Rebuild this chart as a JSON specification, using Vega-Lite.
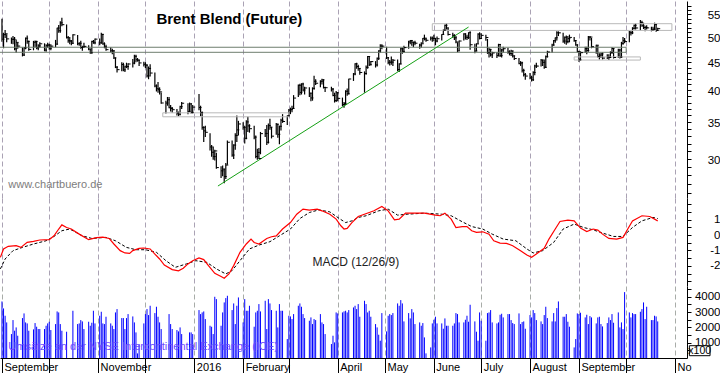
{
"$schema":"https://vega.github.io/schema/vega-lite/v6.json",
"padding":{"left":-3,"top":0,"right":0,"bottom":0},
"spacing":0,
"bounds":"flush",
"config":{"font":"Liberation Sans","view":{"stroke":null},"axis":{"labelFont":"Liberation Sans","labelColor":"#000","labelFontSize":11.5,"titleFont":"Liberation Sans"}},
"datasets":{
"px":[
{"d":"2015-09-01","h":54.0,"l":49.0,"c":49.56,"v":3692},
{"d":"2015-09-02","h":50.9,"l":47.7,"c":50.50,"v":3236},
{"d":"2015-09-03","h":51.5,"l":49.8,"c":50.68,"v":2758},
{"d":"2015-09-04","h":50.6,"l":48.9,"c":49.61,"v":2323},
{"d":"2015-09-07","h":49.9,"l":48.6,"c":49.52,"v":1563},
{"d":"2015-09-08","h":50.2,"l":48.5,"c":49.52,"v":2475},
{"d":"2015-09-09","h":50.0,"l":47.3,"c":47.58,"v":1780},
{"d":"2015-09-10","h":49.5,"l":46.8,"c":48.89,"v":1997},
{"d":"2015-09-11","h":48.8,"l":47.6,"c":48.14,"v":1454},
{"d":"2015-09-14","h":47.9,"l":46.1,"c":46.37,"v":2606},
{"d":"2015-09-15","h":47.9,"l":46.2,"c":47.75,"v":2910},
{"d":"2015-09-16","h":49.9,"l":47.5,"c":49.75,"v":2323},
{"d":"2015-09-17","h":50.3,"l":48.6,"c":49.08,"v":2258},
{"d":"2015-09-18","h":49.3,"l":47.2,"c":47.47,"v":1780},
{"d":"2015-09-21","h":49.2,"l":47.3,"c":48.92,"v":1867},
{"d":"2015-09-22","h":49.3,"l":47.9,"c":49.08,"v":2280},
{"d":"2015-09-23","h":49.2,"l":47.5,"c":47.75,"v":2041},
{"d":"2015-09-24","h":48.5,"l":47.3,"c":48.17,"v":1889},
{"d":"2015-09-25","h":48.9,"l":47.8,"c":48.60,"v":1889},
{"d":"2015-09-28","h":48.7,"l":47.1,"c":47.34,"v":1889},
{"d":"2015-09-29","h":48.5,"l":47.0,"c":48.23,"v":2106},
{"d":"2015-09-30","h":48.8,"l":47.8,"c":48.37,"v":2258},
{"d":"2015-10-01","h":48.6,"l":47.4,"c":47.69,"v":2367},
{"d":"2015-10-02","h":48.5,"l":47.3,"c":48.13,"v":1824},
{"d":"2015-10-05","h":49.4,"l":47.9,"c":48.54,"v":2215},
{"d":"2015-10-06","h":52.0,"l":48.4,"c":51.92,"v":3040},
{"d":"2015-10-07","h":52.6,"l":50.9,"c":51.33,"v":2975},
{"d":"2015-10-08","h":53.4,"l":50.9,"c":53.05,"v":2215},
{"d":"2015-10-09","h":54.2,"l":52.3,"c":52.65,"v":1780},
{"d":"2015-10-12","h":52.7,"l":49.7,"c":49.86,"v":1715},
{"d":"2015-10-13","h":50.2,"l":48.8,"c":49.24,"v":0},
{"d":"2015-10-14","h":50.0,"l":48.5,"c":49.15,"v":0},
{"d":"2015-10-15","h":49.4,"l":48.3,"c":48.71,"v":0},
{"d":"2015-10-16","h":50.6,"l":48.6,"c":50.46,"v":3084},
{"d":"2015-10-19","h":50.4,"l":48.3,"c":48.61,"v":2215},
{"d":"2015-10-20","h":48.9,"l":48.2,"c":48.71,"v":2258},
{"d":"2015-10-21","h":49.2,"l":47.6,"c":47.85,"v":2475},
{"d":"2015-10-22","h":48.2,"l":47.2,"c":47.99,"v":2388},
{"d":"2015-10-23","h":48.8,"l":47.8,"c":48.08,"v":1889},
{"d":"2015-10-26","h":48.3,"l":47.3,"c":47.54,"v":2367},
{"d":"2015-10-27","h":47.6,"l":46.6,"c":46.81,"v":2106},
{"d":"2015-10-28","h":49.2,"l":46.6,"c":49.05,"v":2302},
{"d":"2015-10-29","h":49.4,"l":48.6,"c":48.80,"v":3084},
{"d":"2015-10-30","h":49.7,"l":48.5,"c":49.56,"v":2258},
{"d":"2015-11-02","h":49.7,"l":48.3,"c":48.79,"v":2758},
{"d":"2015-11-03","h":50.9,"l":48.6,"c":50.54,"v":3019},
{"d":"2015-11-04","h":50.7,"l":48.4,"c":48.58,"v":2258},
{"d":"2015-11-05","h":48.9,"l":47.7,"c":47.98,"v":2215},
{"d":"2015-11-06","h":48.4,"l":47.2,"c":47.42,"v":2693},
{"d":"2015-11-09","h":47.9,"l":46.9,"c":47.19,"v":2258},
{"d":"2015-11-10","h":47.6,"l":46.5,"c":47.19,"v":2106},
{"d":"2015-11-11","h":47.3,"l":45.6,"c":45.81,"v":1889},
{"d":"2015-11-12","h":45.9,"l":43.9,"c":44.06,"v":2975},
{"d":"2015-11-13","h":44.3,"l":43.1,"c":43.61,"v":3193},
{"d":"2015-11-16","h":45.0,"l":43.3,"c":44.56,"v":2606},
{"d":"2015-11-17","h":44.9,"l":43.3,"c":43.57,"v":2606},
{"d":"2015-11-18","h":44.4,"l":43.2,"c":44.14,"v":1889},
{"d":"2015-11-19","h":44.9,"l":43.9,"c":44.18,"v":2606},
{"d":"2015-11-20","h":44.8,"l":43.6,"c":44.66,"v":2867},
{"d":"2015-11-23","h":45.6,"l":44.0,"c":44.83,"v":2714},
{"d":"2015-11-24","h":46.4,"l":44.6,"c":46.12,"v":2323},
{"d":"2015-11-25","h":46.4,"l":45.0,"c":45.46,"v":1671},
{"d":"2015-11-26","h":45.8,"l":45.1,"c":45.37,"v":300},
{"d":"2015-11-27","h":45.5,"l":44.3,"c":44.86,"v":900},
{"d":"2015-11-30","h":45.1,"l":44.2,"c":44.61,"v":2258},
{"d":"2015-12-01","h":45.0,"l":43.9,"c":44.44,"v":2867},
{"d":"2015-12-02","h":44.6,"l":42.2,"c":42.49,"v":3193},
{"d":"2015-12-03","h":44.2,"l":41.9,"c":43.84,"v":2802},
{"d":"2015-12-04","h":44.6,"l":42.4,"c":43.00,"v":3410},
{"d":"2015-12-07","h":43.1,"l":40.5,"c":40.73,"v":2932},
{"d":"2015-12-08","h":41.0,"l":39.8,"c":40.26,"v":3345},
{"d":"2015-12-09","h":41.4,"l":39.6,"c":40.11,"v":2693},
{"d":"2015-12-10","h":40.5,"l":39.3,"c":39.73,"v":2323},
{"d":"2015-12-11","h":39.6,"l":37.8,"c":37.93,"v":1889},
{"d":"2015-12-14","h":38.3,"l":36.3,"c":37.92,"v":0},
{"d":"2015-12-15","h":38.9,"l":37.5,"c":38.45,"v":0},
{"d":"2015-12-16","h":38.9,"l":37.1,"c":37.19,"v":2867},
{"d":"2015-12-17","h":37.6,"l":36.6,"c":37.06,"v":2215},
{"d":"2015-12-18","h":37.3,"l":36.4,"c":36.88,"v":1889},
{"d":"2015-12-21","h":37.0,"l":36.0,"c":36.35,"v":1824},
{"d":"2015-12-22","h":36.6,"l":35.9,"c":36.11,"v":1736},
{"d":"2015-12-23","h":37.5,"l":36.1,"c":37.36,"v":1997},
{"d":"2015-12-24","h":38.1,"l":37.0,"c":37.89,"v":1563},
{"d":"2015-12-28","h":37.9,"l":36.2,"c":36.62,"v":0},
{"d":"2015-12-29","h":38.0,"l":36.5,"c":37.79,"v":1671},
{"d":"2015-12-30","h":37.9,"l":36.3,"c":36.46,"v":1671},
{"d":"2015-12-31","h":37.6,"l":36.3,"c":37.28,"v":1563},
{"d":"2016-01-04","h":39.4,"l":36.8,"c":37.22,"v":3128},
{"d":"2016-01-05","h":37.5,"l":35.9,"c":36.42,"v":2867},
{"d":"2016-01-06","h":36.6,"l":33.9,"c":34.23,"v":2975},
{"d":"2016-01-07","h":34.4,"l":32.2,"c":33.75,"v":3040},
{"d":"2016-01-08","h":34.5,"l":32.9,"c":33.55,"v":2541},
{"d":"2016-01-11","h":33.4,"l":31.1,"c":31.55,"v":2106},
{"d":"2016-01-12","h":31.8,"l":30.3,"c":30.86,"v":2041},
{"d":"2016-01-13","h":31.6,"l":29.9,"c":30.31,"v":1563},
{"d":"2016-01-14","h":31.2,"l":29.8,"c":31.03,"v":3997},
{"d":"2016-01-15","h":30.8,"l":28.8,"c":28.94,"v":3845},
{"d":"2016-01-18","h":29.1,"l":27.7,"c":28.55,"v":2106},
{"d":"2016-01-19","h":29.2,"l":27.9,"c":28.76,"v":2975},
{"d":"2016-01-20","h":28.8,"l":27.1,"c":27.88,"v":3627},
{"d":"2016-01-21","h":29.5,"l":27.6,"c":29.25,"v":3910},
{"d":"2016-01-22","h":32.4,"l":29.3,"c":32.18,"v":4062},
{"d":"2016-01-25","h":32.4,"l":30.3,"c":30.50,"v":3128},
{"d":"2016-01-26","h":31.9,"l":30.0,"c":31.80,"v":3562},
{"d":"2016-01-27","h":33.4,"l":31.2,"c":33.10,"v":2215},
{"d":"2016-01-28","h":36.0,"l":32.2,"c":33.89,"v":3410},
{"d":"2016-01-29","h":35.2,"l":33.1,"c":34.74,"v":3953},
{"d":"2016-02-01","h":35.0,"l":33.9,"c":34.24,"v":2323},
{"d":"2016-02-02","h":34.5,"l":32.0,"c":32.72,"v":3845},
{"d":"2016-02-03","h":35.3,"l":32.6,"c":35.04,"v":3084},
{"d":"2016-02-04","h":35.8,"l":33.6,"c":34.46,"v":3084},
{"d":"2016-02-05","h":34.7,"l":33.5,"c":34.06,"v":3410},
{"d":"2016-02-08","h":34.5,"l":32.6,"c":32.88,"v":2041},
{"d":"2016-02-09","h":33.1,"l":30.1,"c":30.32,"v":2975},
{"d":"2016-02-10","h":31.3,"l":29.9,"c":30.84,"v":3084},
{"d":"2016-02-11","h":31.4,"l":30.0,"c":30.06,"v":3519},
{"d":"2016-02-12","h":33.6,"l":30.6,"c":33.36,"v":3040},
{"d":"2016-02-15","h":34.0,"l":32.9,"c":33.39,"v":3736},
{"d":"2016-02-16","h":34.6,"l":31.8,"c":32.18,"v":1889},
{"d":"2016-02-17","h":34.8,"l":32.0,"c":34.50,"v":3845},
{"d":"2016-02-18","h":35.5,"l":33.9,"c":34.28,"v":3562},
{"d":"2016-02-19","h":34.3,"l":32.7,"c":33.01,"v":3128},
{"d":"2016-02-22","h":34.9,"l":33.2,"c":34.69,"v":3084},
{"d":"2016-02-23","h":34.8,"l":32.8,"c":33.27,"v":1997},
{"d":"2016-02-24","h":34.5,"l":31.9,"c":34.41,"v":3519},
{"d":"2016-02-25","h":35.5,"l":33.8,"c":35.29,"v":3084},
{"d":"2016-02-26","h":36.2,"l":34.9,"c":35.10,"v":3084},
{"d":"2016-02-29","h":36.0,"l":34.6,"c":35.97,"v":1237},
{"d":"2016-03-01","h":37.0,"l":35.8,"c":36.81,"v":2758},
{"d":"2016-03-02","h":37.2,"l":36.2,"c":36.93,"v":2714},
{"d":"2016-03-03","h":37.5,"l":36.5,"c":37.07,"v":2541},
{"d":"2016-03-04","h":39.2,"l":37.0,"c":38.72,"v":2867},
{"d":"2016-03-07","h":41.0,"l":38.9,"c":40.84,"v":3410},
{"d":"2016-03-08","h":41.1,"l":39.2,"c":39.65,"v":3562},
{"d":"2016-03-09","h":41.2,"l":39.3,"c":41.07,"v":3345},
{"d":"2016-03-10","h":41.3,"l":39.8,"c":40.05,"v":2867},
{"d":"2016-03-11","h":40.6,"l":39.3,"c":40.39,"v":2606},
{"d":"2016-03-14","h":40.5,"l":38.9,"c":39.53,"v":2432},
{"d":"2016-03-15","h":39.6,"l":38.2,"c":38.74,"v":2649},
{"d":"2016-03-16","h":40.5,"l":38.3,"c":40.33,"v":2215},
{"d":"2016-03-17","h":42.5,"l":40.1,"c":41.54,"v":2541},
{"d":"2016-03-18","h":41.9,"l":40.9,"c":41.20,"v":2475},
{"d":"2016-03-21","h":41.7,"l":40.5,"c":41.54,"v":2867},
{"d":"2016-03-22","h":42.0,"l":41.0,"c":41.79,"v":2323},
{"d":"2016-03-23","h":41.9,"l":40.3,"c":40.47,"v":2215},
{"d":"2016-03-24","h":40.6,"l":39.7,"c":40.44,"v":1563},
{"d":"2016-03-28","h":40.6,"l":39.8,"c":40.20,"v":911},
{"d":"2016-03-29","h":40.4,"l":39.0,"c":39.14,"v":1454},
{"d":"2016-03-30","h":39.6,"l":38.0,"c":38.32,"v":1019},
{"d":"2016-03-31","h":39.9,"l":38.1,"c":39.60,"v":2975},
{"d":"2016-04-01","h":39.7,"l":38.2,"c":38.67,"v":2910},
{"d":"2016-04-04","h":38.8,"l":37.4,"c":37.69,"v":2975},
{"d":"2016-04-05","h":38.1,"l":37.2,"c":37.87,"v":3040},
{"d":"2016-04-06","h":40.0,"l":37.6,"c":39.84,"v":3084},
{"d":"2016-04-07","h":40.3,"l":39.1,"c":39.43,"v":2975},
{"d":"2016-04-08","h":42.0,"l":39.3,"c":41.94,"v":3128},
{"d":"2016-04-11","h":43.0,"l":41.6,"c":42.83,"v":3301},
{"d":"2016-04-12","h":44.8,"l":42.6,"c":44.69,"v":3410},
{"d":"2016-04-13","h":44.9,"l":43.8,"c":44.18,"v":3193},
{"d":"2016-04-14","h":44.5,"l":43.4,"c":43.84,"v":3519},
{"d":"2016-04-15","h":43.9,"l":42.7,"c":43.10,"v":2693},
{"d":"2016-04-18","h":43.3,"l":39.6,"c":42.91,"v":3736},
{"d":"2016-04-19","h":44.4,"l":42.7,"c":44.03,"v":3519},
{"d":"2016-04-20","h":46.2,"l":43.8,"c":46.08,"v":2975},
{"d":"2016-04-21","h":46.1,"l":44.3,"c":44.53,"v":3084},
{"d":"2016-04-22","h":45.2,"l":44.4,"c":45.11,"v":2693},
{"d":"2016-04-25","h":45.2,"l":44.0,"c":44.48,"v":2215},
{"d":"2016-04-26","h":45.9,"l":44.2,"c":45.74,"v":1997},
{"d":"2016-04-27","h":47.3,"l":45.4,"c":47.18,"v":1519},
{"d":"2016-04-28","h":48.5,"l":46.8,"c":48.14,"v":1128},
{"d":"2016-04-29","h":48.5,"l":47.5,"c":48.13,"v":2932},
{"d":"2016-05-02","h":48.0,"l":45.6,"c":45.83,"v":1736},
{"d":"2016-05-03","h":46.0,"l":44.6,"c":44.97,"v":2758},
{"d":"2016-05-04","h":45.4,"l":44.4,"c":45.01,"v":2867},
{"d":"2016-05-05","h":46.1,"l":44.5,"c":45.01,"v":2802},
{"d":"2016-05-06","h":45.6,"l":44.3,"c":45.37,"v":2932},
{"d":"2016-05-09","h":45.5,"l":43.3,"c":43.63,"v":3562},
{"d":"2016-05-10","h":44.8,"l":43.2,"c":44.66,"v":3410},
{"d":"2016-05-11","h":47.8,"l":44.6,"c":47.59,"v":3780},
{"d":"2016-05-12","h":47.8,"l":46.6,"c":47.08,"v":3562},
{"d":"2016-05-13","h":48.2,"l":46.8,"c":47.83,"v":2388},
{"d":"2016-05-16","h":49.2,"l":47.6,"c":48.97,"v":2932},
{"d":"2016-05-17","h":49.4,"l":48.5,"c":49.28,"v":2584},
{"d":"2016-05-18","h":49.4,"l":48.2,"c":48.93,"v":3193},
{"d":"2016-05-19","h":49.0,"l":47.9,"c":48.81,"v":2975},
{"d":"2016-05-20","h":49.2,"l":48.3,"c":48.72,"v":2215},
{"d":"2016-05-23","h":48.6,"l":47.6,"c":48.35,"v":2323},
{"d":"2016-05-24","h":48.9,"l":47.8,"c":48.61,"v":2106},
{"d":"2016-05-25","h":49.8,"l":48.7,"c":49.74,"v":2280},
{"d":"2016-05-26","h":50.5,"l":49.3,"c":49.59,"v":1345},
{"d":"2016-05-27","h":49.9,"l":49.0,"c":49.32,"v":300},
{"d":"2016-05-30","h":50.1,"l":49.3,"c":49.76,"v":691},
{"d":"2016-05-31","h":50.1,"l":49.0,"c":49.69,"v":2258},
{"d":"2016-06-01","h":50.5,"l":49.1,"c":49.72,"v":2497},
{"d":"2016-06-02","h":49.8,"l":48.3,"c":49.17,"v":2693},
{"d":"2016-06-03","h":50.1,"l":48.9,"c":49.64,"v":2258},
{"d":"2016-06-06","h":50.6,"l":49.3,"c":50.55,"v":2258},
{"d":"2016-06-07","h":51.6,"l":50.4,"c":51.44,"v":1910},
{"d":"2016-06-08","h":52.7,"l":51.4,"c":52.51,"v":2584},
{"d":"2016-06-09","h":52.9,"l":51.6,"c":51.95,"v":2106},
{"d":"2016-06-10","h":51.9,"l":50.3,"c":50.54,"v":2106},
{"d":"2016-06-13","h":50.9,"l":49.8,"c":50.35,"v":2106},
{"d":"2016-06-14","h":50.6,"l":49.4,"c":49.83,"v":2258},
{"d":"2016-06-15","h":50.2,"l":48.7,"c":48.97,"v":2932},
{"d":"2016-06-16","h":48.9,"l":46.9,"c":47.19,"v":2867},
{"d":"2016-06-17","h":49.3,"l":47.2,"c":49.17,"v":2323},
{"d":"2016-06-20","h":50.8,"l":49.3,"c":50.65,"v":2323},
{"d":"2016-06-21","h":50.8,"l":49.5,"c":49.96,"v":2497},
{"d":"2016-06-22","h":50.5,"l":49.4,"c":49.88,"v":2758},
{"d":"2016-06-23","h":51.0,"l":49.6,"c":50.91,"v":2367},
{"d":"2016-06-24","h":51.2,"l":47.4,"c":48.41,"v":3476},
{"d":"2016-06-27","h":48.6,"l":46.7,"c":47.16,"v":2388},
{"d":"2016-06-28","h":48.7,"l":47.1,"c":48.58,"v":1715},
{"d":"2016-06-29","h":50.8,"l":48.6,"c":50.61,"v":1128},
{"d":"2016-06-30","h":51.0,"l":49.5,"c":49.68,"v":2975},
{"d":"2016-07-01","h":50.8,"l":49.6,"c":50.35,"v":2432},
{"d":"2016-07-04","h":50.5,"l":49.2,"c":49.90,"v":1128},
{"d":"2016-07-05","h":49.6,"l":46.6,"c":46.80,"v":2932},
{"d":"2016-07-06","h":47.8,"l":45.9,"c":47.43,"v":2975},
{"d":"2016-07-07","h":47.6,"l":46.1,"c":46.40,"v":3128},
{"d":"2016-07-08","h":47.0,"l":45.8,"c":46.76,"v":2323},
{"d":"2016-07-11","h":46.9,"l":45.8,"c":46.25,"v":2258},
{"d":"2016-07-12","h":48.6,"l":46.1,"c":48.47,"v":2323},
{"d":"2016-07-13","h":48.5,"l":46.0,"c":46.26,"v":2823},
{"d":"2016-07-14","h":47.6,"l":45.9,"c":47.37,"v":2888},
{"d":"2016-07-15","h":48.0,"l":46.8,"c":47.61,"v":2649},
{"d":"2016-07-18","h":47.8,"l":46.6,"c":46.96,"v":2867},
{"d":"2016-07-19","h":47.3,"l":46.3,"c":46.66,"v":2867},
{"d":"2016-07-20","h":47.4,"l":46.2,"c":47.17,"v":2475},
{"d":"2016-07-21","h":47.2,"l":45.9,"c":46.20,"v":2280},
{"d":"2016-07-22","h":46.3,"l":45.4,"c":45.69,"v":2215},
{"d":"2016-07-25","h":45.8,"l":44.6,"c":44.72,"v":2910},
{"d":"2016-07-26","h":45.2,"l":44.3,"c":44.87,"v":2215},
{"d":"2016-07-27","h":45.1,"l":43.1,"c":43.47,"v":2345},
{"d":"2016-07-28","h":43.8,"l":42.4,"c":42.70,"v":2388},
{"d":"2016-07-29","h":43.0,"l":41.8,"c":42.46,"v":1910},
{"d":"2016-08-01","h":43.0,"l":41.9,"c":42.14,"v":2802},
{"d":"2016-08-02","h":42.5,"l":41.5,"c":41.80,"v":2649},
{"d":"2016-08-03","h":43.3,"l":41.6,"c":43.10,"v":3128},
{"d":"2016-08-04","h":44.5,"l":42.6,"c":44.29,"v":2932},
{"d":"2016-08-05","h":44.9,"l":43.9,"c":44.27,"v":2475},
{"d":"2016-08-08","h":45.6,"l":44.2,"c":45.39,"v":2388},
{"d":"2016-08-09","h":45.5,"l":44.3,"c":44.98,"v":2215},
{"d":"2016-08-10","h":45.5,"l":43.8,"c":44.05,"v":2802},
{"d":"2016-08-11","h":46.3,"l":43.9,"c":46.04,"v":3345},
{"d":"2016-08-12","h":47.2,"l":45.9,"c":46.97,"v":2606},
{"d":"2016-08-15","h":48.6,"l":46.8,"c":48.35,"v":2388},
{"d":"2016-08-16","h":49.4,"l":48.2,"c":49.23,"v":2932},
{"d":"2016-08-17","h":49.9,"l":48.8,"c":49.85,"v":2388},
{"d":"2016-08-18","h":51.2,"l":49.3,"c":50.89,"v":3258},
{"d":"2016-08-19","h":51.2,"l":50.2,"c":50.88,"v":3692},
{"d":"2016-08-22","h":50.9,"l":48.8,"c":49.16,"v":2693},
{"d":"2016-08-23","h":50.1,"l":48.6,"c":49.96,"v":2693},
{"d":"2016-08-24","h":50.3,"l":48.4,"c":49.05,"v":2867},
{"d":"2016-08-25","h":50.2,"l":48.7,"c":49.67,"v":2367},
{"d":"2016-08-26","h":50.5,"l":48.9,"c":49.92,"v":2041},
{"d":"2016-08-29","h":50.0,"l":49.0,"c":49.26,"v":691},
{"d":"2016-08-30","h":49.4,"l":48.2,"c":48.37,"v":1237},
{"d":"2016-08-31","h":48.5,"l":46.9,"c":47.04,"v":2910},
{"d":"2016-09-01","h":47.2,"l":45.1,"c":45.45,"v":2867},
{"d":"2016-09-02","h":47.1,"l":45.3,"c":46.83,"v":2954},
{"d":"2016-09-05","h":48.0,"l":46.8,"c":47.63,"v":2649},
{"d":"2016-09-06","h":48.0,"l":46.5,"c":47.26,"v":2823},
{"d":"2016-09-07","h":50.2,"l":47.0,"c":49.98,"v":2215},
{"d":"2016-09-08","h":50.2,"l":49.3,"c":49.99,"v":2736},
{"d":"2016-09-09","h":49.8,"l":47.7,"c":48.01,"v":2649},
{"d":"2016-09-12","h":48.4,"l":46.6,"c":48.32,"v":2258},
{"d":"2016-09-13","h":48.3,"l":45.9,"c":46.10,"v":2649},
{"d":"2016-09-14","h":46.7,"l":45.5,"c":46.35,"v":2693},
{"d":"2016-09-15","h":46.8,"l":45.8,"c":46.59,"v":2215},
{"d":"2016-09-16","h":46.9,"l":45.5,"c":45.77,"v":2063},
{"d":"2016-09-19","h":46.5,"l":45.6,"c":45.95,"v":2280},
{"d":"2016-09-20","h":46.5,"l":45.4,"c":45.88,"v":2649},
{"d":"2016-09-21","h":47.1,"l":45.8,"c":46.83,"v":2475},
{"d":"2016-09-22","h":47.9,"l":46.6,"c":47.65,"v":2867},
{"d":"2016-09-23","h":47.7,"l":45.7,"c":45.89,"v":2302},
{"d":"2016-09-26","h":47.6,"l":45.8,"c":47.35,"v":2975},
{"d":"2016-09-27","h":47.6,"l":45.7,"c":45.97,"v":1997},
{"d":"2016-09-28","h":49.0,"l":45.8,"c":48.69,"v":2323},
{"d":"2016-09-29","h":50.0,"l":48.4,"c":49.24,"v":1889},
{"d":"2016-09-30","h":49.8,"l":48.7,"c":49.06,"v":4302},
{"d":"2016-10-03","h":51.3,"l":48.9,"c":50.89,"v":2975},
{"d":"2016-10-04","h":51.4,"l":50.3,"c":50.87,"v":2649},
{"d":"2016-10-05","h":52.1,"l":50.6,"c":51.86,"v":2932},
{"d":"2016-10-06","h":52.7,"l":51.6,"c":52.51,"v":2867},
{"d":"2016-10-07","h":52.9,"l":51.6,"c":51.93,"v":2867},
{"d":"2016-10-10","h":53.7,"l":51.4,"c":53.14,"v":3019},
{"d":"2016-10-11","h":53.5,"l":52.2,"c":52.41,"v":3193},
{"d":"2016-10-12","h":53.1,"l":51.7,"c":52.03,"v":3627},
{"d":"2016-10-13","h":52.4,"l":51.2,"c":52.03,"v":2541},
{"d":"2016-10-14","h":52.5,"l":51.6,"c":51.95,"v":3345},
{"d":"2016-10-17","h":52.2,"l":51.2,"c":51.52,"v":2475},
{"d":"2016-10-18","h":52.2,"l":51.4,"c":51.68,"v":2475},
{"d":"2016-10-19","h":53.1,"l":51.4,"c":52.67,"v":2758},
{"d":"2016-10-20","h":52.7,"l":51.1,"c":51.38,"v":2714},
{"d":"2016-10-21","h":52.0,"l":51.3,"c":51.78,"v":2388}
],
"macd":[
{"d":"2015-08-31","m":-1.44},{"d":"2015-09-02","m":-0.90},{"d":"2015-09-05","m":-0.73},{"d":"2015-09-10","m":-0.69},{"d":"2015-09-13","m":-0.80},{"d":"2015-09-17","m":-0.47},{"d":"2015-09-21","m":-0.41},{"d":"2015-09-25","m":-0.32},{"d":"2015-10-01","m":-0.30},{"d":"2015-10-04","m":-0.05},{"d":"2015-10-07","m":0.39},{"d":"2015-10-09","m":0.66},{"d":"2015-10-12","m":0.49},{"d":"2015-10-15","m":0.39},{"d":"2015-10-20","m":0.06},{"d":"2015-10-26","m":-0.30},{"d":"2015-10-31","m":-0.17},{"d":"2015-11-04","m":-0.13},{"d":"2015-11-08","m":-0.22},{"d":"2015-11-11","m":-0.58},{"d":"2015-11-15","m":-1.01},{"d":"2015-11-18","m":-1.16},{"d":"2015-11-21","m":-1.19},{"d":"2015-11-23","m":-1.01},{"d":"2015-11-27","m":-0.86},{"d":"2015-11-30","m":-0.84},{"d":"2015-12-04","m":-0.90},{"d":"2015-12-07","m":-1.23},{"d":"2015-12-10","m":-1.55},{"d":"2015-12-13","m":-1.94},{"d":"2015-12-18","m":-2.24},{"d":"2015-12-22","m":-2.32},{"d":"2015-12-25","m":-2.15},{"d":"2015-12-28","m":-1.87},{"d":"2015-12-31","m":-1.66},{"d":"2016-01-04","m":-1.48},{"d":"2016-01-07","m":-1.59},{"d":"2016-01-10","m":-1.98},{"d":"2016-01-14","m":-2.48},{"d":"2016-01-18","m":-2.69},{"d":"2016-01-20","m":-2.80},{"d":"2016-01-23","m":-2.52},{"d":"2016-01-26","m":-1.98},{"d":"2016-01-30","m":-1.12},{"d":"2016-02-03","m":-0.58},{"d":"2016-02-06","m":-0.26},{"d":"2016-02-08","m":-0.48},{"d":"2016-02-11","m":-0.58},{"d":"2016-02-16","m":-0.22},{"d":"2016-02-19","m":-0.11},{"d":"2016-02-22","m":-0.05},{"d":"2016-02-26","m":0.39},{"d":"2016-03-02","m":0.81},{"d":"2016-03-06","m":1.35},{"d":"2016-03-10","m":1.68},{"d":"2016-03-14","m":1.61},{"d":"2016-03-19","m":1.68},{"d":"2016-03-22","m":1.57},{"d":"2016-03-27","m":1.35},{"d":"2016-03-31","m":1.03},{"d":"2016-04-03","m":0.60},{"d":"2016-04-05","m":0.39},{"d":"2016-04-07","m":0.43},{"d":"2016-04-10","m":0.81},{"d":"2016-04-14","m":1.20},{"d":"2016-04-21","m":1.46},{"d":"2016-04-24","m":1.57},{"d":"2016-04-29","m":1.85},{"d":"2016-05-03","m":1.57},{"d":"2016-05-07","m":0.99},{"d":"2016-05-10","m":1.03},{"d":"2016-05-14","m":1.42},{"d":"2016-05-20","m":1.42},{"d":"2016-05-26","m":1.42},{"d":"2016-06-02","m":1.29},{"d":"2016-06-05","m":1.25},{"d":"2016-06-08","m":1.42},{"d":"2016-06-12","m":1.03},{"d":"2016-06-15","m":0.49},{"d":"2016-06-19","m":0.54},{"d":"2016-06-22","m":0.55},{"d":"2016-06-25","m":0.28},{"d":"2016-06-28","m":0.17},{"d":"2016-07-02","m":0.21},{"d":"2016-07-06","m":0.06},{"d":"2016-07-09","m":-0.37},{"d":"2016-07-13","m":-0.52},{"d":"2016-07-17","m":-0.54},{"d":"2016-07-21","m":-0.69},{"d":"2016-07-26","m":-1.01},{"d":"2016-07-30","m":-1.29},{"d":"2016-08-02","m":-1.44},{"d":"2016-08-05","m":-1.23},{"d":"2016-08-10","m":-0.86},{"d":"2016-08-13","m":-0.26},{"d":"2016-08-17","m":0.39},{"d":"2016-08-20","m":0.88},{"d":"2016-08-25","m":0.97},{"d":"2016-08-29","m":0.92},{"d":"2016-09-02","m":0.45},{"d":"2016-09-06","m":0.23},{"d":"2016-09-10","m":0.39},{"d":"2016-09-13","m":0.32},{"d":"2016-09-16","m":0.06},{"d":"2016-09-20","m":-0.22},{"d":"2016-09-25","m":-0.26},{"d":"2016-09-29","m":-0.15},{"d":"2016-10-02","m":0.39},{"d":"2016-10-05","m":0.92},{"d":"2016-10-11","m":1.25},{"d":"2016-10-16","m":1.20},{"d":"2016-10-21","m":0.92}
],
"sig":[
{"d":"2015-08-31","s":-2.19},{"d":"2015-09-03","s":-1.55},{"d":"2015-09-08","s":-1.01},{"d":"2015-09-14","s":-0.80},{"d":"2015-09-21","s":-0.58},{"d":"2015-09-29","s":-0.37},{"d":"2015-10-04","s":-0.09},{"d":"2015-10-09","s":0.28},{"d":"2015-10-14","s":0.39},{"d":"2015-10-22","s":-0.05},{"d":"2015-10-28","s":-0.22},{"d":"2015-11-06","s":-0.15},{"d":"2015-11-12","s":-0.37},{"d":"2015-11-19","s":-0.80},{"d":"2015-11-25","s":-0.95},{"d":"2015-12-01","s":-0.95},{"d":"2015-12-08","s":-1.12},{"d":"2015-12-14","s":-1.66},{"d":"2015-12-20","s":-2.09},{"d":"2015-12-27","s":-1.87},{"d":"2016-01-02","s":-1.66},{"d":"2016-01-09","s":-1.77},{"d":"2016-01-15","s":-2.19},{"d":"2016-01-21","s":-2.52},{"d":"2016-01-25","s":-2.30},{"d":"2016-01-30","s":-1.66},{"d":"2016-02-05","s":-0.90},{"d":"2016-02-11","s":-0.65},{"d":"2016-02-18","s":-0.43},{"d":"2016-02-24","s":-0.05},{"d":"2016-03-02","s":0.39},{"d":"2016-03-08","s":1.07},{"d":"2016-03-14","s":1.46},{"d":"2016-03-20","s":1.63},{"d":"2016-03-27","s":1.50},{"d":"2016-04-02","s":1.07},{"d":"2016-04-06","s":0.81},{"d":"2016-04-10","s":0.92},{"d":"2016-04-14","s":1.14},{"d":"2016-04-19","s":1.25},{"d":"2016-04-27","s":1.57},{"d":"2016-05-03","s":1.68},{"d":"2016-05-09","s":1.29},{"d":"2016-05-15","s":1.35},{"d":"2016-05-26","s":1.42},{"d":"2016-06-06","s":1.35},{"d":"2016-06-12","s":1.25},{"d":"2016-06-19","s":0.86},{"d":"2016-06-25","s":0.55},{"d":"2016-07-02","s":0.39},{"d":"2016-07-08","s":0.06},{"d":"2016-07-15","s":-0.26},{"d":"2016-07-23","s":-0.37},{"d":"2016-07-30","s":-0.90},{"d":"2016-08-03","s":-1.16},{"d":"2016-08-09","s":-1.01},{"d":"2016-08-16","s":-0.48},{"d":"2016-08-22","s":0.39},{"d":"2016-08-29","s":0.71},{"d":"2016-09-04","s":0.49},{"d":"2016-09-10","s":0.34},{"d":"2016-09-16","s":0.13},{"d":"2016-09-23","s":-0.09},{"d":"2016-09-29","s":-0.09},{"d":"2016-10-05","s":0.49},{"d":"2016-10-11","s":0.92},{"d":"2016-10-18","s":1.14},{"d":"2016-10-21","s":1.07}
],
"boxes":[
{"d":"2015-08-01","d2":"2016-10-01","lo":46.9,"hi":47.9,"kind":"support"},
{"d":"2015-12-12","d2":"2016-03-01","lo":35.8,"hi":36.4,"kind":"range"},
{"d":"2016-05-31","d2":"2016-10-30","lo":51.4,"hi":52.87,"kind":"range"},
{"d":"2016-08-29","d2":"2016-10-10","lo":45.4,"hi":46.0,"kind":"range"}
],
"trend":[{"d":"2016-01-16","p":26.79},{"d":"2016-06-23","p":52.13}]
},
"vconcat":[
{
"width":687,"height":197,
"resolve":{"axis":{"x":"independent","y":"independent"}},
"layer":[
{"data":{"name":"px"},"mark":{"type":"rule","color":"#000","strokeWidth":1.2},
 "encoding":{
  "x":{"field":"d","type":"temporal","scale":{"type":"utc","domain":[1440957600000,1478613600000]},
       "axis":{"orient":"bottom","grid":true,"gridColor":"#aaa2b4","gridDash":[5,3],"gridWidth":1,"labels":false,"ticks":false,"domain":false,"title":null,"tickCount":{"interval":"month","step":1}}},
  "y":{"field":"l","type":"quantitative","scale":{"type":"log","domain":[25.48,58.14],"nice":false,"zero":false},
       "axis":{"orient":"right","title":null,"grid":false,"values":[26,27,28,29,30,31,32,33,34,35,36,37,38,39,40,41,42,43,44,45,46,47,48,49,50,51,52,53,54,55,56,57],
               "labelExpr":"datum.value % 5 == 0 ? '' + datum.value : ''","labelOverlap":false,"labelAlign":"right","labelPadding":29,"labelOffset":1,
               "tickSize":4,"tickColor":"#000","domainColor":"#000","labelFontSize":11.5}},
  "y2":{"field":"h"}}},
{"data":{"name":"boxes"},"mark":{"type":"rect","fill":"white","fillOpacity":0,"strokeWidth":1,"clip":true},
 "encoding":{
  "x":{"field":"d","type":"temporal","scale":{"type":"utc","domain":[1440957600000,1478613600000]},"axis":null},
  "x2":{"field":"d2"},
  "y":{"field":"lo","type":"quantitative","scale":{"type":"log","domain":[25.48,58.14],"nice":false,"zero":false},"axis":null},
  "y2":{"field":"hi"},
  "stroke":{"field":"kind","type":"nominal","scale":{"domain":["support","range"],"range":["#6e7d6e","#b9b9b9"]},"legend":null}}},
{"mark":{"type":"rule","color":"#6e7d6e","strokeWidth":1},
 "encoding":{"y":{"datum":42.65,"type":"quantitative","scale":{"type":"log","domain":[25.48,58.14],"nice":false,"zero":false},"axis":null}}},
{"data":{"name":"trend"},"mark":{"type":"line","color":"#15a015","strokeWidth":1},
 "encoding":{
  "x":{"field":"d","type":"temporal","scale":{"type":"utc","domain":[1440957600000,1478613600000]},"axis":null},
  "y":{"field":"p","type":"quantitative","scale":{"type":"log","domain":[25.48,58.14],"nice":false,"zero":false},"axis":null}}},
{"data":{"name":"px"},"mark":{"type":"rule","color":"#000","strokeWidth":1,"x2Offset":2.5},
 "encoding":{
  "x":{"field":"d","type":"temporal","scale":{"type":"utc","domain":[1440957600000,1478613600000]},"axis":null},
  "x2":{"field":"d"},
  "y":{"field":"c","type":"quantitative","scale":{"type":"log","domain":[25.48,58.14],"nice":false,"zero":false},"axis":null}}},
{"data":{"values":[{"d":"2015-12-08","p":52.87,"t":"Brent Blend (Future)"}]},
 "mark":{"type":"text","align":"left","baseline":"alphabetic","fontSize":15,"fontWeight":"bold","font":"Liberation Sans","color":"#000"},
 "encoding":{
  "x":{"field":"d","type":"temporal","scale":{"type":"utc","domain":[1440957600000,1478613600000]},"axis":null},
  "y":{"field":"p","type":"quantitative","scale":{"type":"log","domain":[25.48,58.14],"nice":false,"zero":false},"axis":null},
  "text":{"field":"t"}}},
{"data":{"values":[{"d":"2015-09-05","p":26.53,"t":"www.chartbuero.de"}]},
 "mark":{"type":"text","align":"left","baseline":"alphabetic","fontSize":11,"font":"Liberation Sans","color":"#7d7d7d"},
 "encoding":{
  "x":{"field":"d","type":"temporal","scale":{"type":"utc","domain":[1440957600000,1478613600000]},"axis":null},
  "y":{"field":"p","type":"quantitative","scale":{"type":"log","domain":[25.48,58.14],"nice":false,"zero":false},"axis":null},
  "text":{"field":"t"}}}
]
},
{
"width":687,"height":88,
"resolve":{"axis":{"x":"independent","y":"independent"}},
"layer":[
{"data":{"name":"sig"},"mark":{"type":"line","color":"#000","strokeWidth":1,"strokeDash":[3,2]},
 "encoding":{
  "x":{"field":"d","type":"temporal","scale":{"type":"utc","domain":[1440957600000,1478613600000]},
       "axis":{"orient":"bottom","grid":true,"gridColor":"#aaa2b4","gridDash":[5,3],"gridWidth":1,"labels":false,"ticks":false,"domain":false,"title":null,"tickCount":{"interval":"month","step":1}}},
  "y":{"field":"s","type":"quantitative","scale":{"domain":[-3.3,2.4],"nice":false,"zero":false},
       "axis":{"orient":"right","title":null,"grid":false,"values":[-3,-2.5,-2,-1.5,-1,-0.5,0,0.5,1,1.5,2],
               "labelExpr":"(datum.value == 1 || datum.value == 0 || datum.value == -1 || datum.value == -2) ? '' + datum.value : ''","labelOverlap":false,"labelAlign":"right","labelPadding":29,
               "tickSize":4,"tickColor":"#000","domainColor":"#000","labelFontSize":11.5}}}},
{"mark":{"type":"rule","color":"#0000ff","strokeWidth":1.2},
 "encoding":{"y":{"datum":0,"type":"quantitative","scale":{"domain":[-3.3,2.4],"nice":false,"zero":false},"axis":null}}},
{"mark":{"type":"rule","color":"#000","strokeWidth":1},
 "encoding":{"y":{"datum":2.4,"type":"quantitative","scale":{"domain":[-3.3,2.4],"nice":false,"zero":false},"axis":null}}},
{"data":{"name":"macd"},"mark":{"type":"line","color":"#ff0000","strokeWidth":1.2},
 "encoding":{
  "x":{"field":"d","type":"temporal","scale":{"type":"utc","domain":[1440957600000,1478613600000]},"axis":null},
  "y":{"field":"m","type":"quantitative","scale":{"domain":[-3.3,2.4],"nice":false,"zero":false},"axis":null}}},
{"data":{"values":[{"d":"2016-03-16","m":-1.98,"t":"MACD (12/26/9)"}]},
 "mark":{"type":"text","align":"left","baseline":"alphabetic","fontSize":12,"font":"Liberation Sans","color":"#222"},
 "encoding":{
  "x":{"field":"d","type":"temporal","scale":{"type":"utc","domain":[1440957600000,1478613600000]},"axis":null},
  "y":{"field":"m","type":"quantitative","scale":{"domain":[-3.3,2.4],"nice":false,"zero":false},"axis":null},
  "text":{"field":"t"}}}
]
},
{
"width":687,"height":72,
"resolve":{"axis":{"x":"independent","y":"independent"}},
"layer":[
{"data":{"name":"px"},"mark":{"type":"rule","color":"#0000ff","strokeWidth":1},
 "encoding":{
  "x":{"field":"d","type":"temporal","scale":{"type":"utc","domain":[1440957600000,1478613600000]},
       "axis":{"orient":"bottom","grid":true,"gridColor":"#a8aca8","gridDash":[5,3],"gridWidth":1,"title":null,"tickCount":{"interval":"month","step":1},
               "domain":true,"domainColor":"#000","ticks":true,"tickColor":"#000","tickSize":16,
               "labelExpr":"utcyear(datum.value) == 2016 && utcmonth(datum.value) == 10 ? 'No' : (utcmonth(datum.value) == 0 ? utcFormat(datum.value, '%Y') : utcFormat(datum.value, '%B'))",
               "labelAlign":"left","labelBaseline":"top","labelPadding":-13,"labelOffset":2,"labelFlush":false,"labelOverlap":"greedy","labelSeparation":4,"labelFontSize":11,"labelColor":"#000"}},
  "y":{"field":"v","type":"quantitative","scale":{"domain":[0,4700],"nice":false,"zero":false},
       "axis":{"orient":"right","title":null,"grid":false,"values":[500,1000,1500,2000,2500,3000,3500,4000,4500],
               "labelExpr":"datum.value % 1000 == 0 ? '' + datum.value : ''","labelOverlap":false,"labelAlign":"right","labelPadding":29,
               "tickSize":4,"tickColor":"#000","domainColor":"#000","labelFontSize":11.5}},
  "y2":{"datum":0}}},
{"mark":{"type":"rule","color":"#000","strokeWidth":1},
 "encoding":{"y":{"datum":4700,"type":"quantitative","scale":{"domain":[0,4700],"nice":false,"zero":false},"axis":null}}},
{"data":{"values":[{"d":"2015-09-05","v":509,"t":"Umsätze an der NYSE Intercontinental Exchange (ICE)"}]},
 "mark":{"type":"text","align":"left","baseline":"alphabetic","fontSize":11,"font":"Liberation Sans","color":"#6a48ff"},
 "encoding":{
  "x":{"field":"d","type":"temporal","scale":{"type":"utc","domain":[1440957600000,1478613600000]},"axis":null},
  "y":{"field":"v","type":"quantitative","scale":{"domain":[0,4700],"nice":false,"zero":false},"axis":null},
  "text":{"field":"t"}}},
{"data":{"values":[{"d":"2016-11-10T02:00:00Z","d2":"2016-11-23T05:00:00Z","v":150,"v2":802}]},
 "mark":{"type":"rect","fill":"white","stroke":"#000","strokeWidth":1},
 "encoding":{
  "x":{"field":"d","type":"temporal","scale":{"type":"utc","domain":[1440957600000,1478613600000]},"axis":null},
  "x2":{"field":"d2"},
  "y":{"field":"v","type":"quantitative","scale":{"domain":[0,4700],"nice":false,"zero":false},"axis":null},
  "y2":{"field":"v2"}}},
{"data":{"values":[{"d":"2016-11-16T16:00:00Z","v":476,"t":"x100"}]},
 "mark":{"type":"text","align":"center","baseline":"middle","fontSize":10.5,"font":"Liberation Sans","color":"#000"},
 "encoding":{
  "x":{"field":"d","type":"temporal","scale":{"type":"utc","domain":[1440957600000,1478613600000]},"axis":null},
  "y":{"field":"v","type":"quantitative","scale":{"domain":[0,4700],"nice":false,"zero":false},"axis":null},
  "text":{"field":"t"}}}
]
}
]
}
